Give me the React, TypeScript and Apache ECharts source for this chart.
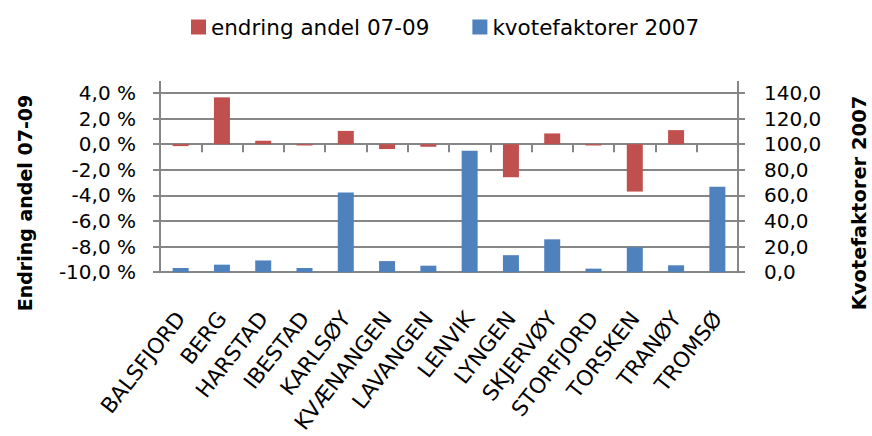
import React, { useEffect, useRef } from "react";
import * as echarts from "echarts";

const categories = [
  "BALSFJORD", "BERG", "HARSTAD", "IBESTAD", "KARLSØY", "KVÆNANGEN", "LAVANGEN",
  "LENVIK", "LYNGEN", "SKJERVØY", "STORFJORD", "TORSKEN", "TRANØY", "TROMSØ",
];
// endring andel 07-09 (percent)
const endringAndel = [-0.15, 3.66, 0.27, -0.1, 1.04, -0.38, -0.2, 0, -2.58, 0.84, -0.1, -3.7, 1.1, 0];
// kvotefaktorer 2007
const kvotefaktorer = [3.3, 5.9, 9.2, 3.3, 62.2, 8.7, 5.1, 94.8, 13.3, 25.7, 2.8, 19.5, 5.4, 66.8];

const seriesNames = ["endring andel 07-09", "kvotefaktorer 2007"];
const axisTitles = ["Endring andel 07-09", "Kvotefaktorer 2007"];
const leftMin = -10, leftMax = 4, leftInterval = 2;
const rightMin = 0, rightMax = 140, rightInterval = 20;

const FONT = "'DejaVu Sans', sans-serif";
const GRAY = "#868686";

export default function App() {
  const ref = useRef<HTMLDivElement>(null);
  useEffect(() => {
    if (!ref.current) return;
    const chart = echarts.init(ref.current, null, { renderer: "svg" });
    const gl = { color: GRAY, width: 2 };
    const fmt = (v: number) => v.toFixed(1).replace(".", ",");
    chart.setOption({
      animation: false,
      backgroundColor: "#fff",
      grid: { left: 160, right: 134, top: 93, bottom: 161, containLabel: false },
      legend: {
        top: 11,
        left: 186,
        icon: "rect",
        itemWidth: 15,
        itemHeight: 15,
        itemGap: 43,
        data: seriesNames,
        textStyle: { fontFamily: FONT, fontSize: 21.5, color: "#000" },
      },
      xAxis: [
        {
          type: "category",
          data: categories,
          position: "bottom",
          axisLine: { show: false, onZero: false },
          axisTick: { show: false },
          axisLabel: {
            interval: 0,
            rotate: 52,
            margin: 42,
            fontFamily: FONT,
            fontSize: 21.5,
            color: "#000",
          },
        },
        {
          type: "category",
          data: categories,
          position: "bottom",
          axisLine: { show: true, onZero: true, onZeroAxisIndex: 0, lineStyle: gl },
          axisTick: { show: true, interval: 0, length: 8, lineStyle: gl },
          axisLabel: { show: false, interval: 0 },
        },
      ],
      yAxis: [
        {
          type: "value",
          position: "left",
          min: leftMin,
          max: leftMax,
          interval: leftInterval,
          axisLine: { show: true, lineStyle: gl },
          axisTick: { show: true, length: 7, lineStyle: gl },
          splitLine: { show: true, lineStyle: gl },
          axisLabel: {
            margin: 24,
            formatter: (v: number) => fmt(v) + " %",
            fontFamily: FONT,
            fontSize: 20,
            color: "#000",
          },
        },
        {
          type: "value",
          position: "right",
          min: rightMin,
          max: rightMax,
          interval: rightInterval,
          axisLine: { show: true, lineStyle: gl },
          axisTick: { show: true, length: 7, lineStyle: gl },
          splitLine: { show: false },
          axisLabel: {
            margin: 26,
            formatter: (v: number) => fmt(v),
            fontFamily: FONT,
            fontSize: 20,
            color: "#000",
          },
        },
      ],
      series: [
        {
          type: "bar",
          name: seriesNames[0],
          data: endringAndel,
          xAxisIndex: 0,
          yAxisIndex: 0,
          barWidth: 16,
          barGap: "-100%",
          itemStyle: { color: "#C0504D" },
        },
        {
          type: "bar",
          name: seriesNames[1],
          data: kvotefaktorer,
          xAxisIndex: 0,
          yAxisIndex: 1,
          barWidth: 16,
          barGap: "-100%",
          itemStyle: { color: "#4F81BD" },
        },
      ],
      graphic: [
        { type: "line", shape: { x1: 160, y1: 81, x2: 160, y2: 93 }, style: { stroke: GRAY, lineWidth: 2 } },
        { type: "line", shape: { x1: 738, y1: 81, x2: 738, y2: 93 }, style: { stroke: GRAY, lineWidth: 2 } },
        {
          type: "text",
          x: 25,
          y: 203,
          rotation: Math.PI / 2,
          style: {
            text: axisTitles[0],
            font: `bold 19px ${FONT}`,
            fill: "#000",
            align: "center",
            verticalAlign: "middle",
            textAlign: "center",
            textVerticalAlign: "middle",
          },
        },
        {
          type: "text",
          x: 859,
          y: 203,
          rotation: Math.PI / 2,
          style: {
            text: axisTitles[1],
            font: `bold 19.5px ${FONT}`,
            fill: "#000",
            align: "center",
            verticalAlign: "middle",
            textAlign: "center",
            textVerticalAlign: "middle",
          },
        },
      ],
    });
    return () => chart.dispose();
  }, []);
  return (
    <div
      ref={ref}
      style={{ position: "absolute", left: 0, top: 0, width: 872, height: 436 }}
    />
  );
}
